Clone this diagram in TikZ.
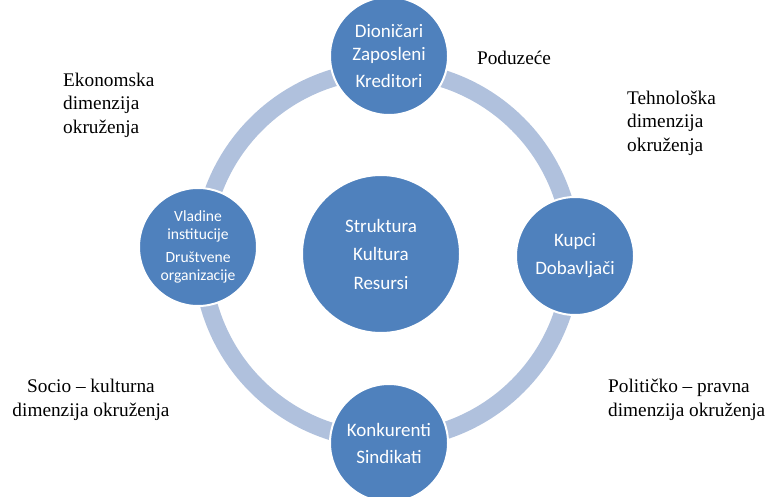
\documentclass[tikz,border=0pt]{standalone}
\usepackage{fontspec}
\setmainfont{Liberation Serif}
\newfontfamily\calibrifont{Carlito}
\definecolor{circblue}{HTML}{4F81BD}
\definecolor{ringblue}{HTML}{B0C1DD}
\tikzset{
  actor/.style={circle, fill=circblue, draw=white, line width=2pt, minimum size=118pt,
    inner sep=0pt, text=white, align=center, font=\calibrifont\fontsize{19}{23}\selectfont},
  core/.style={actor, minimum size=158pt, font=\calibrifont\fontsize{19}{28.5}\selectfont},
  dimtext/.style={inner sep=0pt, font=\fontsize{19.3}{23.5}\selectfont}
}
\begin{document}
\begin{tikzpicture}[x=1pt, y=-1pt]
\useasboundingbox (0,0) rectangle (765,497);
\coordinate (ringc) at (387,255);
\draw[ringblue, line width=17.5pt] (ringc) circle (185pt);
% actors round the ring
\node[actor] (owners) at (389,56) {Dioničari\\Zaposleni\\[4pt]Kreditori};
\node[actor] (market) at (575,256) {Kupci\\[5pt]Dobavljači};
\node[actor] (rivals) at (389,443) {Konkurenti\\[4pt]Sindikati};
\node[actor, font=\calibrifont\fontsize{15.6}{18}\selectfont] (state) at (198,247)
  {Vladine\\institucije\\[5pt]Društvene\\organizacije};
\node[core] (firm) at (381,254) {Struktura\\Kultura\\Resursi};
% dimensions
\node[dimtext] (poduzece) at (514,58) {Poduzeće};
\node[dimtext, anchor=west, align=left] (econ) at (63,105) {Ekonomska\\dimenzija\\okruženja};
\node[dimtext, anchor=west, align=left] (tech) at (627,123) {Tehnološka\\dimenzija\\okruženja};
\node[dimtext, align=center] (socio) at (91,400) {Socio – kulturna\\dimenzija okruženja};
\node[dimtext, anchor=west, align=left] (polit) at (608,400) {Političko – pravna\\dimenzija okruženja};
\end{tikzpicture}
\end{document}
